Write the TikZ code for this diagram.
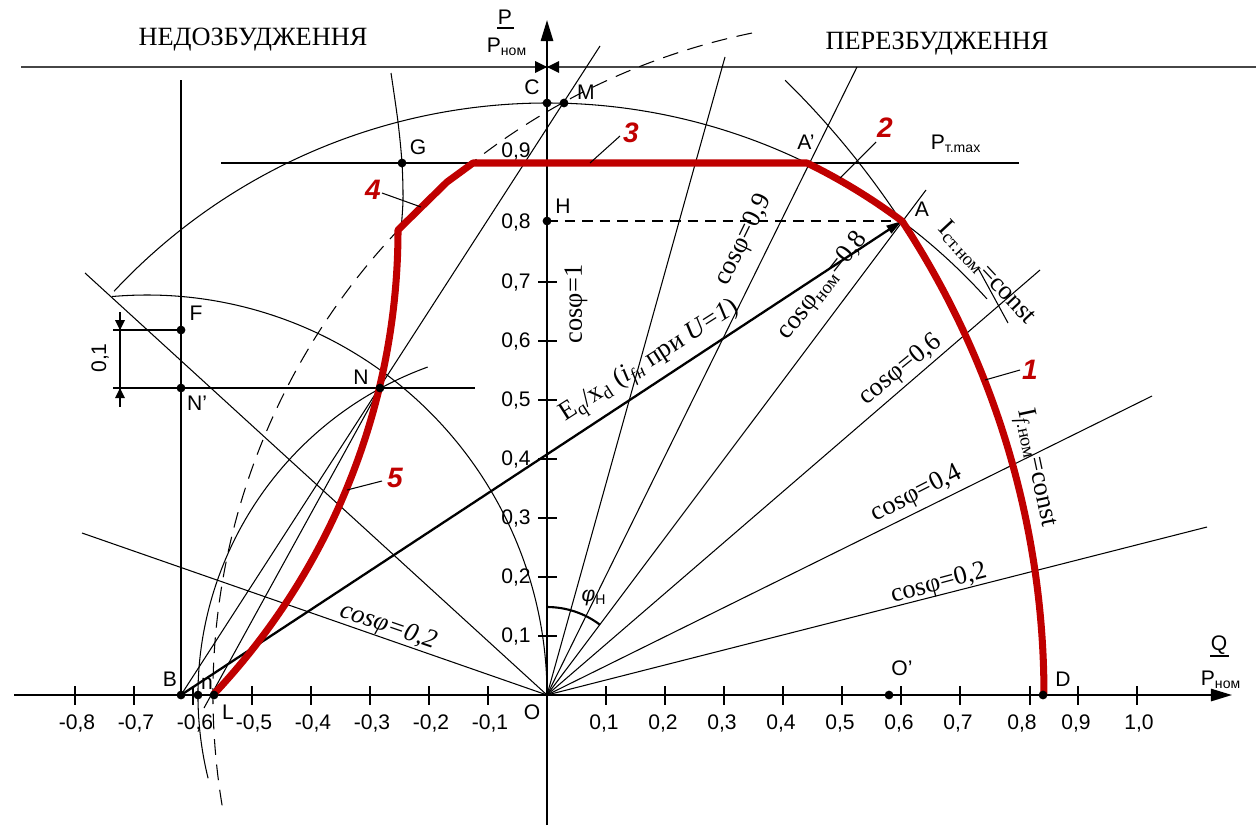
\documentclass[tikz,border=0pt]{standalone}
\usepackage{fontspec}
\setmainfont{Liberation Serif}
\setsansfont{Liberation Sans}
\usetikzlibrary{arrows.meta}
\definecolor{redc}{RGB}{192,0,0}
\definecolor{topc}{RGB}{70,70,70}
\begin{document}
\begin{tikzpicture}[x=0.02cm,y=0.02cm,
  thinl/.style={line width=0.6pt},
  axisl/.style={line width=1.1pt},
  redl/.style={line width=4pt, draw=redc, line join=round},
  dashl/.style={line width=0.6pt, dash pattern=on 9pt off 5.5pt},
  dashs/.style={line width=0.7pt, dash pattern=on 6pt off 4pt},
  lab/.style={font=\sffamily\fontsize{12}{14}\selectfont, inner sep=0pt},
  ser/.style={font=\fontsize{15}{17}\selectfont, inner sep=0pt},
  rnum/.style={font=\sffamily\bfseries\itshape\fontsize{16}{18}\selectfont, text=redc, inner sep=0pt},
  dotn/.style={circle, fill=black, inner sep=0pt, minimum size=5pt},
  arr/.style={-{Triangle[length=12pt,width=7pt]}}]
\useasboundingbox (0,-825) rectangle (1256,0);
% key points
\coordinate (O) at (547,-695);
\coordinate (B) at (181,-695);
\coordinate (Op) at (889,-695);
\coordinate (D) at (1043,-695);
\coordinate (A) at (902,-221);
\coordinate (Ap) at (807,-163);
\coordinate (C) at (547,-103);
\coordinate (M) at (564,-103);
\coordinate (G) at (402,-163);
\coordinate (H) at (547,-221);
\coordinate (F) at (181,-330);
\coordinate (Np) at (181,-388);
\coordinate (N) at (380,-388);
\coordinate (n) at (198,-695);
\coordinate (L) at (214,-695);
\coordinate (T) at (547,-67);
\coordinate (S) at (-279,-230);
% headings and top line
\node[ser] (h1) at (253,-40) {НЕДОЗБУДЖЕННЯ};
\node[ser] (h2) at (937,-44) {ПЕРЕЗБУДЖЕННЯ};
\draw[draw=topc, line width=1.2pt] (21,-67) -- (1256,-67);
\fill (535,-61) -- (T) -- (535,-73) -- cycle;
\fill (559,-61) -- (T) -- (559,-73) -- cycle;
% construction lines
\draw[thinl] (181,-80) -- (B);
\draw[thinl] (113,-388) -- (475,-388);
\draw[thinl] (113,-330) -- (F);
\draw[thinl] (120,-312) -- (120,-407);
\fill (115,-320) -- (120,-330) -- (125,-320) -- cycle;
\fill (115,-398) -- (120,-388) -- (125,-398) -- cycle;
\node[lab, rotate=90] (d01) at (100,-358) {0,1};
\draw[line width=0.9pt] (221,-163) -- (1019,-163);
% arcs
\draw[thinl] (O) ++(137:592) arc[start angle=137, end angle=42, radius=592];
\draw[thinl] (978,-268) -- (1008,-323);
\draw[thinl] (B) ++(33.3:862) arc[start angle=33.3, end angle=45.5, radius=862];
\draw[thinl] (O) ++(110:349) arc[start angle=110, end angle=193.8, radius=349];
\draw[thinl] (147,-695) ++(95:400) arc[start angle=95, end angle=0, radius=400];
\draw[dashl] (Op) ++(189.4:676) arc[start angle=189.4, end angle=101, radius=676];
\draw[thinl] plot[smooth] coordinates {(391,-73) (398,-122) (402,-163) (403,-200) (401,-230)};
% fan of cos phi lines
\foreach \p in {(725,-57),(857,-67),(926,-190),(1040,-270),(1152,-396),(1207,-527),(85,-273),(82,-533)}
  \draw[thinl] (O) -- \p;
\draw[thinl] (B) -- (600,-46);
\draw[thinl] (204,-708) -- (N);
\draw[dashs] (H) -- (A);
% axes
\draw[axisl, arr] (547,-825) -- (547,-20);
\draw[axisl, arr] (14,-695) -- (1232,-695);
\foreach \k in {1,...,8} {
  \draw[axisl] ({547-59*\k},-686) -- ({547-59*\k},-705);
  \node[lab] at ({549-59*\k},-723) {-0,\k};
}
\foreach \k in {1,2,3,4,5,6,7,9} {
  \draw[axisl] ({547+59*\k},-686) -- ({547+59*\k},-705);
  \node[lab] at ({545+59*\k},-723) {0,\k};
}
\draw[axisl] (1030,-686) -- (1030,-705);
\node[lab] at (1022,-723) {0,8};
\draw[axisl] (1137,-686) -- (1137,-705);
\node[lab] at (1139,-723) {1,0};
\foreach \k in {1,...,7,9} {
  \draw[axisl] (538,{-695+59*\k}) -- (557,{-695+59*\k});
}
\foreach \k in {1,...,7} {
  \node[lab, anchor=east] at (531,{-695+59*\k}) {0,\k};
}
\node[lab, anchor=east] at (531,-222) {0,8};
\node[lab, anchor=east] at (531,-151) {0,9};
% axis titles
\node[lab] (Pt) at (505,-17) {P};
\draw[line width=1.1pt] (497,-28) -- (514,-28);
\node[lab] (Pn) at (507,-47) {P\textsubscript{ном}};
\node[lab] (Qt) at (1219,-645) {Q};
\draw[line width=1.1pt] (1210,-656) -- (1229,-656);
\node[lab] (Qn) at (1221,-680) {P\textsubscript{ном}};
\node[lab] (Pm) at (956,-144) {P\textsubscript{т.max}};
% phi arc
\draw[line width=1.2pt] (O) ++(90:88) arc[start angle=90, end angle=53.13, radius=88];
\node[lab] (phi) at (594,-598) {\textit{φ}\textsubscript{H}};
% E vector
\draw[line width=1.3pt, -{Triangle[length=9pt,width=5pt]}] (B) -- (A);
% red characteristic
\draw[redl] (S) ++(-43.3:677) arc[start angle=-43.3, end angle=0, radius=677]
  -- (447,-182) -- (473,-163) -- (Ap)
  arc[start angle=63.95, end angle=53.13, radius=592]
  arc[start angle=33.32, end angle=0, radius=862];
% red numbers and leaders
\draw[thinl] (985,-380) -- (1020,-370);
\node[rnum] (r1) at (1030,-370) {1};
\draw[thinl] (840,-178) -- (876,-142);
\node[rnum] (r2) at (885,-128) {2};
\draw[thinl] (590,-163) -- (620,-136);
\node[rnum] (r3) at (631,-133) {3};
\draw[thinl] (382,-193) -- (421,-207);
\node[rnum] (r4) at (373,-190) {4};
\draw[thinl] (347,-490) -- (382,-481);
\node[rnum] (r5) at (395,-478) {5};
% dots
\foreach \q in {C,M,G,H,F,Np,N,B,n,L,Op,D}
  \node[dotn] at (\q) {};
% point labels
\node[lab] at (532,-87) {C};
\node[lab] at (586,-92) {M};
\node[lab] at (418,-147) {G};
\node[lab] at (563,-206) {H};
\node[lab] at (806,-142) {A'};
\node[lab] at (922,-209) {A};
\node[lab] at (196,-313) {F};
\node[lab] at (197,-403) {N'};
\node[lab] at (361,-377) {N};
\node[lab] at (170,-679) {B};
\node[lab] at (207,-684) {n};
\node[lab] at (228,-712) {L};
\node[lab] at (532,-712) {O};
\node[lab] at (902,-668) {O'};
\node[lab] at (1063,-679) {D};
% serif curve labels
\node[ser, rotate=90] at (576,-304) {cosφ=1};
\node[ser, rotate=32.5] at (650,-362) {E\textsubscript{q}/x\textsubscript{d} (\textit{i}\textsubscript{\textit{fн}} при \textit{U}=\textit{1})};
\node[ser, rotate=52] at (823,-286) {cosφ\textsubscript{ном}=0,8};
\node[ser, rotate=64] at (744,-240) {cosφ=0,9};
\node[ser, rotate=39] at (901,-370) {cosφ=0,6};
\node[ser, rotate=27] at (917,-494) {cosφ=0,4};
\node[ser, rotate=15] at (939,-584) {cosφ=0,2};
\node[ser, rotate=-19] at (388,-627) {\itshape cosφ=0,2};
\node[ser, rotate=-47] at (987,-273) {I\textsubscript{ст.ном}=const};
\node[ser, rotate=-78] at (1035,-468) {I\textsubscript{\textit{f}.ном}=const};
\end{tikzpicture}
\end{document}
